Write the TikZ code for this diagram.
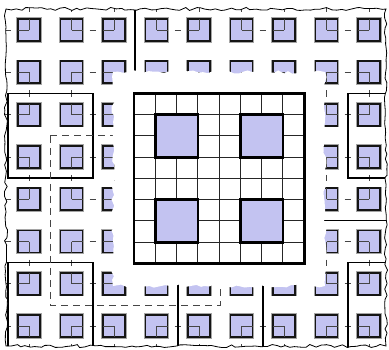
\documentclass[tikz,border=0pt]{standalone}
\usepackage{tikz}
\usetikzlibrary{calc,decorations.pathmorphing}
\definecolor{mzlav}{HTML}{C3C3F1}
\definecolor{mzink}{HTML}{151515}
\definecolor{mzdash}{HTML}{454545}
\definecolor{mzhalo}{HTML}{A5A5A5}

\begin{document}
\begin{tikzpicture}[
      x=1pt, y=-1pt,
      cell/.style={rectangle, minimum size=22pt, inner sep=0pt, fill=mzlav, draw=mzink, line width=1.9pt,
                   preaction={draw=mzhalo, line width=3.3pt}},
      wire/.style={draw=mzdash, line width=0.75pt, dash pattern=on 11pt off 7pt on 6.5pt off 7pt on 11pt off 7pt},
      wall/.style={draw=black, line width=1.6pt},
      zone/.style={draw=mzdash, line width=0.8pt, dash pattern=on 7pt off 5pt},
      torn/.style={decorate, decoration={random steps, segment length=5pt, amplitude=1.6pt}},
      bigcell/.style={rectangle, minimum size=42.5pt, inner sep=0pt, fill=mzlav, draw=black, line width=2.6pt},
      mesh/.style={draw=black!85, line width=0.9pt}
    ]
    \useasboundingbox (0,0) rectangle (389,349);

    \begin{scope}
      \pgfmathsetseed{42}
      \path[torn, clip] (6,9) -- (386,9) -- (386,346) -- (6,346) -- cycle;

      % cells, one ring beyond the frame
      \foreach \c in {0,...,9}
        \foreach \r in {0,...,9}
          \node[cell] (q-\c-\r) at ({29+42.5*(\c-1)}, {30+42.3*(\r-1)}) {};

      \foreach \r in {0,...,9}
        \foreach \c in {0,2,4,6,8} {
          \pgfmathtruncatemacro{\cn}{\c+1}
          \draw[wire] (q-\c-\r.center) -- (q-\cn-\r.center);
        }
      \foreach \c in {0,...,9}
        \foreach \r in {0,2,4,6,8} {
          \pgfmathtruncatemacro{\rn}{\r+1}
          \draw[wire] (q-\c-\r.center) -- (q-\c-\rn.center);
        }

      \draw[wall] (135.25,0) -- (135.25,120);
      \draw[wall] (7.75,93.45) rectangle (92.75,178.05);
      \draw[wall] (7.75,262.65) rectangle (92.75,360);
      \draw[wall] (177.75,262.65) -- (177.75,360);
      \draw[wall] (262.75,262.65) -- (262.75,360);
      \draw[wall] (347.75,262.65) rectangle (400,360);
      \draw[wall] (347.75,93.45) rectangle (400,178.05);
      \draw[wall] (305.25,220.35) -- (400,220.35);
      \draw[zone] (50.25,135.75) rectangle (220.25,304.95);

      \pgfmathsetseed{7}
      \fill[white, torn] (113,72) -- (325,72) -- (325,286) -- (113,286) -- cycle;
    \end{scope}

    \pgfmathsetseed{42}
    \draw[torn, line width=0.8pt] (6,9) -- (386,9) -- (386,346) -- (6,346) -- cycle;

    % magnified block
    \node[rectangle, minimum size=170pt, inner sep=0pt] (zoom) at (219.25,178.45) {};
    \foreach \k in {1,...,7} {
      \draw[mesh] ($(zoom.north west)+(21.25*\k,0)$) -- ($(zoom.south west)+(21.25*\k,0)$);
      \draw[mesh] ($(zoom.north west)+(0,21.25*\k)$) -- ($(zoom.north east)+(0,21.25*\k)$);
    }
    \node[bigcell] (z1) at (176.75,135.95) {};
    \node[bigcell] (z2) at (261.75,135.95) {};
    \node[bigcell] (z3) at (176.75,220.95) {};
    \node[bigcell] (z4) at (261.75,220.95) {};
    \draw[black, line width=2.8pt] (zoom.north west) rectangle (zoom.south east);
  \end{tikzpicture}
\end{document}
